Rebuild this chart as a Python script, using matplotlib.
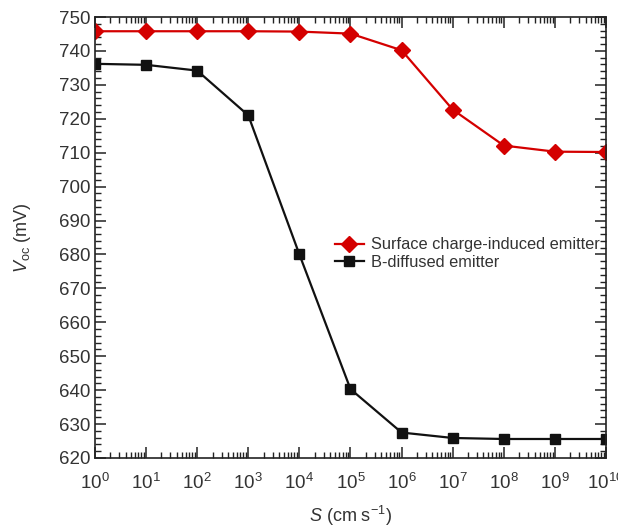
import matplotlib
matplotlib.use("Agg")
import matplotlib.pyplot as plt
from matplotlib.ticker import LogLocator, MultipleLocator, NullFormatter

plt.rcParams['font.family'] = ['Liberation Sans', 'DejaVu Sans']
plt.rcParams['mathtext.fontset'] = 'custom'
plt.rcParams['mathtext.rm'] = 'Liberation Sans'
plt.rcParams['mathtext.it'] = 'Liberation Sans:italic'

# Surface recombination velocity (cm/s) and open-circuit voltage (mV)
s_values = [1e0, 1e1, 1e2, 1e3, 1e4, 1e5, 1e6, 1e7, 1e8, 1e9, 1e10]
voc_surface_charge = [745.8, 745.8, 745.8, 745.8, 745.7, 745.1, 740.2, 722.7, 712.1, 710.3, 710.2]
voc_b_diffused = [736.2, 735.9, 734.2, 721.0, 680.0, 640.3, 627.5, 625.9, 625.6, 625.6, 625.6]

label_surface = "Surface charge-induced emitter"
label_bdiff = "B-diffused emitter"

fig = plt.figure(figsize=(6.18, 5.28), dpi=100)
ax = fig.add_axes([0.1537, 0.1326, 0.8269, 0.8352])

ax.plot(s_values, voc_surface_charge, color='#d40000', lw=1.6, marker='D',
        markersize=8, markeredgecolor='#d40000', label=label_surface)
ax.plot(s_values, voc_b_diffused, color='#111111', lw=1.6, marker='s',
        markersize=7.5, markeredgecolor='#111111', label=label_bdiff)

ax.set_xscale('log')
ax.set_xlim(1e0, 1e10)
ax.set_ylim(620, 750)

ax.xaxis.set_major_locator(LogLocator(base=10, numticks=20))
ax.xaxis.set_minor_locator(LogLocator(base=10, subs=range(2, 10), numticks=20))
ax.xaxis.set_minor_formatter(NullFormatter())
ax.set_xticks(s_values)
ax.set_xticklabels([r'$\mathregular{10^{%d}}$' % i for i in range(11)])

ax.yaxis.set_major_locator(MultipleLocator(10))
ax.yaxis.set_minor_locator(MultipleLocator(2))

tick_color = '#333333'
ax.tick_params(which='both', direction='in', top=True, right=True,
               colors='#222222', labelcolor=tick_color, labelsize=13.5)
ax.tick_params(which='major', length=8, width=1.1)
ax.tick_params(which='minor', length=4, width=1.0)
ax.tick_params(axis='x', pad=10.5)
ax.tick_params(axis='y', pad=3)

for sp in ax.spines.values():
    sp.set_linewidth(1.2)
    sp.set_color('#222222')

ax.set_xlabel(r'$\mathit{S}$ (cm s$^{\mathregular{-1}}$)', fontsize=13,
              color=tick_color, labelpad=8)
ax.set_ylabel(r'$\mathit{V}_{\mathregular{oc}}$ (mV)', fontsize=13,
              color=tick_color, labelpad=19)

leg = ax.legend(loc='upper left', bbox_to_anchor=(0.456, 0.515), frameon=False,
                fontsize=11.8, handlelength=1.8, handletextpad=0.4,
                labelspacing=0.15, borderaxespad=0)
for t in leg.get_texts():
    t.set_color('#333333')

fig.savefig('out.png', dpi=100)
